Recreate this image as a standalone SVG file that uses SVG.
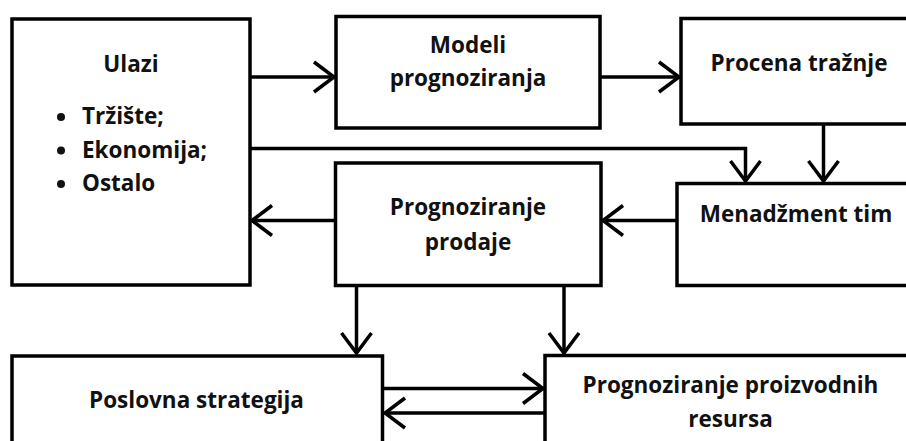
<svg xmlns="http://www.w3.org/2000/svg" width="906" height="441" viewBox="0 0 906 441">
  <style>
    .box { fill: #fff; stroke: #000; stroke-width: 3.5; }
    .lbl { font-family: "Open Sans", "Liberation Sans", sans-serif; font-weight: 700; font-size: 22.5px; fill: #111; }
    .mid { text-anchor: middle; }
    .wire { fill: none; stroke: #000; stroke-width: 3.5; }
    .dot { fill: #111; }
  </style>
  <defs>
    <!-- open chevron head, tip at the end of the line -->
    <marker id="head" markerUnits="userSpaceOnUse" viewBox="-24 -18 28 36" markerWidth="28" markerHeight="36" refX="0" refY="0" orient="auto" overflow="visible">
      <path d="M-20,-15 L0,0 L-20,15" fill="none" stroke="#000" stroke-width="3.5" stroke-linejoin="miter"/>
    </marker>
  </defs>

  <rect width="906" height="441" fill="#fff"/>

  <g id="connectors">
    <line class="wire" x1="250" y1="77" x2="334" y2="77" marker-end="url(#head)"/>
    <line class="wire" x1="600" y1="77" x2="679" y2="77" marker-end="url(#head)"/>
    <line class="wire" x1="823.5" y1="124" x2="823.5" y2="181" marker-end="url(#head)"/>
    <polyline class="wire" points="250,148.5 745.5,148.5 745.5,181" marker-end="url(#head)"/>
    <line class="wire" x1="677" y1="220.5" x2="603" y2="220.5" marker-end="url(#head)"/>
    <line class="wire" x1="335.5" y1="220.5" x2="252" y2="220.5" marker-end="url(#head)"/>
    <line class="wire" x1="356.5" y1="285.5" x2="356.5" y2="353" marker-end="url(#head)"/>
    <line class="wire" x1="564" y1="285.5" x2="564" y2="353" marker-end="url(#head)"/>
    <line class="wire" x1="382.5" y1="388.5" x2="543" y2="388.5" marker-end="url(#head)"/>
    <line class="wire" x1="545" y1="413" x2="385" y2="413" marker-end="url(#head)"/>
  </g>

  <g id="ulazi">
    <rect class="box" x="12" y="19" width="238" height="266"/>
    <text class="lbl mid" x="131" y="72">Ulazi</text>
    <circle class="dot" cx="61" cy="117" r="4"/>
    <text class="lbl" x="82" y="124">Tržište;</text>
    <circle class="dot" cx="61" cy="150.5" r="4"/>
    <text class="lbl" x="82" y="157.5">Ekonomija;</text>
    <circle class="dot" cx="61" cy="184" r="4"/>
    <text class="lbl" x="82" y="191">Ostalo</text>
  </g>

  <g id="modeli">
    <rect class="box" x="336" y="16.5" width="264" height="111.5"/>
    <text class="lbl mid" x="468" y="53">Modeli</text>
    <text class="lbl mid" x="468" y="86">prognoziranja</text>
  </g>

  <g id="procena">
    <rect class="box" x="681" y="18.5" width="240" height="105.5"/>
    <text class="lbl mid" x="799" y="71">Procena tražnje</text>
  </g>

  <g id="menadzment">
    <rect class="box" x="677" y="183.5" width="244" height="102"/>
    <text class="lbl mid" x="796" y="222">Menadžment tim</text>
  </g>

  <g id="prognoziranje-prodaje">
    <rect class="box" x="335.5" y="163" width="265.5" height="122.5"/>
    <text class="lbl mid" x="468" y="215">Prognoziranje</text>
    <text class="lbl mid" x="468" y="250">prodaje</text>
  </g>

  <g id="poslovna-strategija">
    <rect class="box" x="12" y="356" width="370.5" height="100"/>
    <text class="lbl mid" x="196.5" y="408">Poslovna strategija</text>
  </g>

  <g id="prognoziranje-resursa">
    <rect class="box" x="545" y="355.5" width="376" height="100"/>
    <text class="lbl mid" x="730.5" y="393">Prognoziranje proizvodnih</text>
    <text class="lbl mid" x="730.5" y="427">resursa</text>
  </g>
</svg>
